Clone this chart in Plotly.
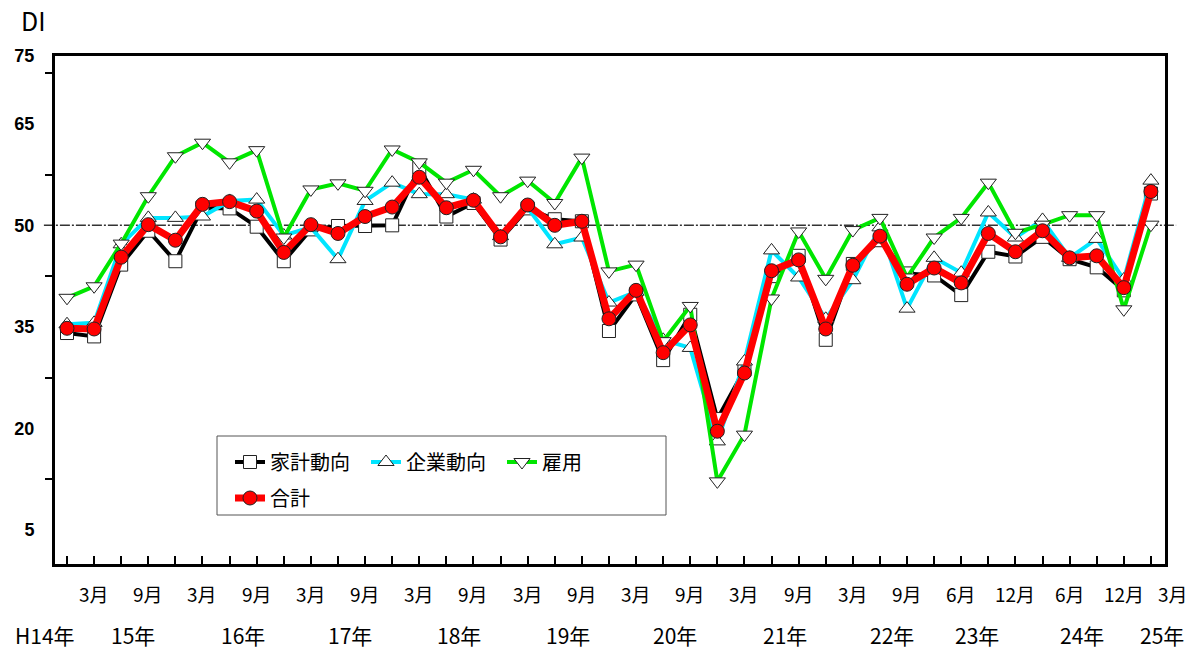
import plotly.graph_objects as go

# ---- data (quarterly survey, H14.12 .. ) ----
kakei = [34.1, 33.6, 44.2, 49.2, 44.7, 52.6, 52.5, 49.8, 44.7, 49.4,
         49.9, 49.9, 50.0, 58.5, 51.3, 53.3, 47.9, 52.5, 50.9, 50.6,
         34.4, 39.8, 30.1, 36.8, 21.4, 28.7, 42.5, 45.5, 33.1, 44.3,
         47.8, 42.9, 42.6, 39.7, 46.1, 45.4, 48.3, 45.0, 43.8, 40.4,
         54.7]
kigyo = [35.4, 35.6, 47.2, 51.1, 51.1, 51.3, 53.6, 53.8, 48.5, 49.7,
         45.0, 53.6, 56.3, 54.6, 54.6, 53.8, 48.4, 52.6, 47.2, 48.2,
         38.6, 40.2, 33.1, 31.9, 18.1, 29.9, 46.3, 42.3, 36.2, 41.9,
         49.7, 37.7, 45.2, 43.0, 51.9, 48.2, 50.8, 45.2, 48.0, 42.0,
         56.6]
koyo = [39.3, 41.0, 47.3, 54.3, 60.2, 62.2, 59.3, 61.1, 48.2, 55.3,
        56.2, 55.1, 61.2, 59.3, 56.3, 58.2, 54.3, 56.6, 53.3, 60.0,
        43.2, 44.2, 32.9, 38.1, 12.2, 19.1, 39.2, 49.1, 42.1, 49.3,
        51.1, 42.3, 48.2, 51.1, 56.3, 48.9, 50.1, 51.5, 51.5, 37.6,
        50.1]
gokei = [34.8, 34.7, 45.3, 50.1, 47.8, 53.1, 53.5, 52.1, 46.0, 50.1,
         48.8, 51.3, 52.7, 57.1, 52.6, 53.7, 48.3, 53.0, 50.0, 50.6,
         36.2, 40.4, 31.2, 35.3, 19.6, 28.2, 43.3, 44.9, 34.7, 44.1,
         48.4, 41.3, 43.7, 41.5, 48.8, 46.1, 49.2, 45.2, 45.5, 40.8,
         55.0]

x_idx = list(range(len(gokei)))

month_labels = ["3月", "9月", "3月", "9月", "3月", "9月", "3月", "9月",
                "3月", "9月", "3月", "9月", "3月", "9月", "3月", "9月",
                "6月", "12月", "6月", "12月", "3月"]
month_pos = [1, 3, 5, 7, 9, 11, 13, 15, 17, 19, 21, 23, 25, 27, 29, 31,
             33, 35, 37, 39, 40.8]
year_labels = ["H14年", "15年", "16年", "17年", "18年", "19年", "20年",
               "21年", "22年", "23年", "24年", "25年"]
year_pos = [-0.8, 2.45, 6.5, 10.45, 14.45, 18.5, 22.45, 26.5, 30.45,
            33.6, 37.45, 40.4]

y_label_vals = [5, 20, 35, 50, 65, 75]
y_minor_vals = [12.5, 27.5, 42.5, 57.5, 72.5]

JP = "Noto Sans CJK JP"
X_RANGE = [-0.443, 40.52]


def to_paper(v):
    return (v - X_RANGE[0]) / (X_RANGE[1] - X_RANGE[0])


fig = go.Figure()

fig.add_trace(go.Scatter(
    x=x_idx, y=kakei, name="家計動向", mode="lines+markers",
    line=dict(color="black", width=4),
    marker=dict(symbol="square", size=13, color="white",
                line=dict(color="#222", width=1)),
    legend="legend"))
fig.add_trace(go.Scatter(
    x=x_idx, y=kigyo, name="企業動向", mode="lines+markers",
    line=dict(color="#00e5ff", width=4),
    marker=dict(symbol="triangle-up", size=14, color="white",
                line=dict(color="#222", width=1)),
    legend="legend"))
fig.add_trace(go.Scatter(
    x=x_idx, y=koyo, name="雇用", mode="lines+markers",
    line=dict(color="#00e600", width=4),
    marker=dict(symbol="triangle-down", size=14, color="white",
                line=dict(color="#222", width=1)),
    legend="legend"))
fig.add_trace(go.Scatter(
    x=x_idx, y=gokei, name="合計", mode="lines+markers",
    line=dict(color="#ff0000", width=7),
    marker=dict(symbol="circle", size=14, color="#ff0000",
                line=dict(color="#222", width=1)),
    legend="legend2"))

# reference line at 50
fig.add_shape(type="line", xref="paper", x0=-0.01, x1=1.01, yref="y",
              y0=50, y1=50, layer="below",
              line=dict(color="#333", width=1.5, dash="10px,2px,2px,2px"))

# legend box
fig.add_shape(type="rect", xref="paper", yref="paper",
              x0=(217 - 55) / 1110, x1=(666 - 55) / 1110,
              y0=(564 - 515) / 508, y1=(564 - 436) / 508,
              line=dict(color="#555", width=1), fillcolor="white",
              layer="below")

annotations = []
for t, p in zip(month_labels, month_pos):
    annotations.append(dict(x=to_paper(p), y=-0.058, xref="paper",
                            yref="paper", text=t, showarrow=False,
                            xanchor="center", yanchor="middle",
                            font=dict(family=JP, size=19, color="black")))
for t, p in zip(year_labels, year_pos):
    annotations.append(dict(x=to_paper(p), y=-0.140, xref="paper",
                            yref="paper", text=t, showarrow=False,
                            xanchor="center", yanchor="middle", height=24,
                            font=dict(family=JP, size=21, color="black")))
annotations.append(dict(x=-0.019, y=1.071, xref="paper", yref="paper",
                        text="DI", showarrow=False, xanchor="center",
                        yanchor="middle",
                        font=dict(family=JP, size=25, color="black")))

fig.update_layout(
    width=1202, height=649,
    margin=dict(l=55, r=37, t=56, b=85),
    paper_bgcolor="white", plot_bgcolor="white",
    annotations=annotations,
    legend=dict(orientation="h", x=(230 - 55) / 1110, xanchor="left",
                y=(564 - 462) / 508, yanchor="middle",
                bgcolor="rgba(0,0,0,0)", borderwidth=0,
                entrywidth=91, entrywidthmode="pixels",
                font=dict(family=JP, size=20, color="black")),
    legend2=dict(orientation="h", x=(230 - 55) / 1110, xanchor="left",
                 y=(564 - 498) / 508, yanchor="middle",
                 bgcolor="rgba(0,0,0,0)", borderwidth=0,
                 font=dict(family=JP, size=20, color="black")),
    xaxis=dict(range=X_RANGE, tickmode="array", tickvals=x_idx,
               ticktext=[""] * len(x_idx), ticks="inside", ticklen=8,
               tickwidth=2, tickcolor="black", showgrid=False,
               zeroline=False, showline=True, linecolor="black",
               linewidth=3, mirror=True, showticklabels=False),
    yaxis=dict(range=[0, 75], tickmode="array", tickvals=y_label_vals,
               ticktext=[str(v) for v in y_label_vals], ticks="",
               ticklabelstandoff=14,
               tickfont=dict(family="Liberation Sans", size=18,
                             color="black", weight="bold"),
               minor=dict(tickmode="array", tickvals=y_minor_vals,
                          ticks="outside", ticklen=7, tickwidth=2,
                          tickcolor="black", showgrid=False),
               showgrid=False, zeroline=False, showline=True,
               linecolor="black", linewidth=3, mirror=True),
)

fig.write_html("out.html")
